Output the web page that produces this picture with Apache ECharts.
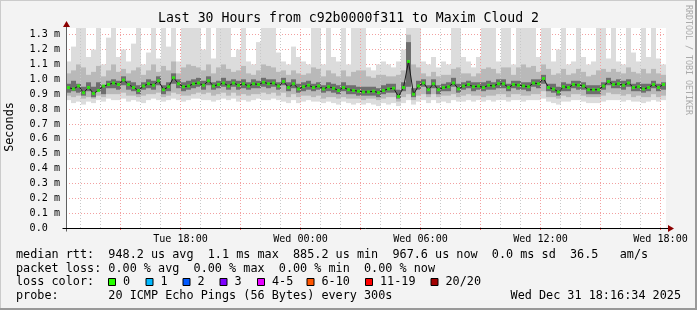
<!DOCTYPE html>
<html><head><meta charset="utf-8">
<script src="https://cdn.jsdelivr.net/npm/echarts@6/dist/echarts.min.js"></script>
<style>html,body{margin:0;padding:0;background:#f3f3f3}#c{width:697px;height:310px}</style>
</head><body><div id="c"></div>
<script>
// ---- data ----
const startHour = 12.2761;   // Tue 12:16:34 (hours since Tue 00:00)
const spanHours = 30;
const stepHour = 0.25;       // one smoke column = 15 min

const median = [
0.944,0.935,0.955,0.91,0.945,0.905,0.925,0.955,0.965,0.975,
0.965,0.995,0.965,0.945,0.925,0.955,0.97,0.96,0.99,0.93,
0.95,1.01,0.97,0.95,0.955,0.97,0.975,0.96,0.99,0.955,
0.965,0.975,0.955,0.975,0.96,0.97,0.955,0.97,0.965,0.98,
0.97,0.975,0.955,0.985,0.945,0.97,0.935,0.95,0.96,0.945,
0.955,0.935,0.95,0.94,0.925,0.945,0.93,0.925,0.92,0.915,
0.915,0.92,0.91,0.925,0.935,0.94,0.885,0.945,1.12,0.90,
0.955,0.975,0.93,0.97,0.93,0.945,0.95,0.975,0.935,0.955,
0.965,0.95,0.955,0.945,0.96,0.955,0.97,0.97,0.945,0.965,
0.96,0.955,0.95,0.975,0.97,1.005,0.945,0.935,0.915,0.95,
0.945,0.965,0.96,0.955,0.93,0.93,0.93,0.955,0.985,0.965,
0.97,0.96,0.975,0.945,0.95,0.935,0.945,0.965,0.945,0.965];

const smokeMax = [
1.12,1.22,1.36,1.36,1.15,1.20,1.36,1.10,1.28,1.36,
1.15,1.20,1.12,1.24,1.36,1.10,1.18,1.36,1.14,1.36,
1.22,1.36,1.12,1.36,1.36,1.36,1.36,1.20,1.36,1.14,
1.36,1.36,1.36,1.15,1.20,1.36,1.12,1.10,1.25,1.36,
1.36,1.36,1.18,1.12,1.10,1.22,1.15,1.12,1.10,1.36,
1.36,1.10,1.36,1.15,1.12,1.36,1.10,1.36,1.36,1.36,
1.08,1.06,1.10,1.12,1.10,1.08,1.12,1.20,1.36,1.36,
1.36,1.12,1.10,1.15,1.08,1.12,1.10,1.36,1.36,1.15,
1.12,1.08,1.15,1.36,1.36,1.36,1.12,1.36,1.36,1.10,
1.36,1.36,1.36,1.36,1.15,1.36,1.36,1.12,1.20,1.36,
1.10,1.12,1.36,1.15,1.10,1.12,1.36,1.36,1.14,1.36,
1.12,1.10,1.36,1.18,1.12,1.36,1.15,1.36,1.14,1.10];

const smokeMin = [
0.86,0.84,0.85,0.83,0.85,0.84,0.86,0.85,0.87,0.86,
0.86,0.87,0.85,0.86,0.85,0.84,0.86,0.87,0.86,0.85,
0.86,0.87,0.86,0.85,0.86,0.87,0.87,0.86,0.86,0.85,
0.86,0.87,0.86,0.87,0.85,0.86,0.85,0.86,0.87,0.86,
0.86,0.87,0.86,0.85,0.84,0.86,0.84,0.85,0.86,0.85,
0.85,0.84,0.85,0.84,0.83,0.85,0.84,0.83,0.84,0.83,
0.84,0.83,0.82,0.84,0.83,0.84,0.82,0.84,0.86,0.83,
0.85,0.86,0.84,0.86,0.84,0.85,0.84,0.86,0.85,0.85,
0.86,0.85,0.86,0.85,0.86,0.85,0.86,0.86,0.85,0.86,
0.86,0.85,0.86,0.86,0.86,0.87,0.85,0.84,0.83,0.85,
0.85,0.86,0.86,0.85,0.84,0.84,0.84,0.85,0.86,0.86,
0.86,0.85,0.86,0.85,0.85,0.84,0.85,0.86,0.85,0.86];

const smokeMidHigh = [
1.04,1.06,1.10,1.08,1.03,1.05,1.09,1.02,1.06,1.10,
1.05,1.07,1.04,1.06,1.08,1.03,1.06,1.10,1.05,1.09,
1.06,1.12,1.04,1.08,1.10,1.09,1.08,1.06,1.10,1.04,
1.08,1.10,1.07,1.05,1.06,1.09,1.04,1.03,1.06,1.10,
1.09,1.08,1.05,1.06,1.03,1.06,1.04,1.03,1.04,1.08,
1.07,1.02,1.06,1.04,1.02,1.06,1.02,1.05,1.06,1.06,
1.02,1.01,1.03,1.03,1.02,1.02,1.03,1.06,1.30,1.10,
1.08,1.04,1.02,1.05,1.02,1.03,1.03,1.07,1.08,1.04,
1.04,1.02,1.04,1.07,1.08,1.07,1.04,1.08,1.08,1.03,
1.08,1.10,1.08,1.09,1.05,1.10,1.07,1.03,1.04,1.07,
1.03,1.04,1.07,1.05,1.02,1.03,1.06,1.07,1.05,1.07,
1.05,1.04,1.08,1.05,1.04,1.07,1.04,1.07,1.04,1.03];

const smokeMidLow = [
0.89,0.88,0.89,0.87,0.88,0.87,0.89,0.88,0.90,0.90,
0.90,0.91,0.89,0.89,0.88,0.89,0.90,0.90,0.91,0.88,
0.89,0.91,0.90,0.89,0.89,0.90,0.91,0.90,0.91,0.89,
0.90,0.91,0.89,0.91,0.89,0.90,0.89,0.90,0.90,0.91,
0.90,0.91,0.89,0.91,0.88,0.90,0.88,0.89,0.89,0.88,
0.89,0.87,0.88,0.88,0.87,0.88,0.87,0.87,0.87,0.86,
0.87,0.87,0.86,0.87,0.88,0.88,0.85,0.88,0.90,0.86,
0.89,0.90,0.88,0.90,0.88,0.89,0.89,0.90,0.88,0.89,
0.90,0.89,0.89,0.88,0.89,0.89,0.90,0.90,0.88,0.90,
0.90,0.89,0.89,0.90,0.90,0.92,0.88,0.88,0.87,0.89,
0.88,0.90,0.90,0.89,0.88,0.88,0.88,0.89,0.91,0.90,
0.90,0.89,0.90,0.88,0.89,0.88,0.88,0.90,0.88,0.89];

const smokeCoreHigh = [
0.97,0.99,0.97,0.95,0.98,0.95,0.98,0.96,0.99,1.00,
0.99,1.02,0.99,0.98,0.96,0.98,1.00,0.99,1.02,0.96,
0.98,1.04,1.00,0.98,0.99,1.00,1.01,0.99,1.02,0.98,
0.99,1.01,0.99,1.00,0.99,1.00,0.98,1.00,0.99,1.01,
1.00,1.00,0.98,1.01,0.98,1.00,0.97,0.98,0.99,0.97,
0.98,0.96,0.98,0.97,0.96,0.98,0.96,0.96,0.95,0.95,
0.95,0.95,0.94,0.96,0.97,0.97,0.93,0.98,1.25,0.94,
0.99,1.00,0.96,1.00,0.96,0.97,0.98,1.01,0.97,0.98,
0.99,0.98,0.98,0.98,0.99,0.98,1.00,1.00,0.97,0.99,
0.99,0.98,0.98,1.00,1.00,1.03,0.97,0.97,0.95,0.98,
0.97,0.99,0.99,0.98,0.96,0.96,0.96,0.98,1.01,0.99,
1.00,0.99,1.00,0.97,0.98,0.97,0.97,0.99,0.97,0.98];

const smokeCoreLow = [
0.91,0.92,0.91,0.89,0.92,0.88,0.92,0.90,0.94,0.94,
0.93,0.96,0.93,0.92,0.90,0.93,0.94,0.93,0.96,0.90,
0.92,0.97,0.94,0.92,0.93,0.94,0.95,0.93,0.96,0.93,
0.94,0.95,0.93,0.95,0.93,0.94,0.93,0.94,0.94,0.95,
0.94,0.95,0.93,0.96,0.92,0.94,0.91,0.92,0.93,0.92,
0.93,0.91,0.92,0.91,0.90,0.92,0.90,0.90,0.89,0.89,
0.89,0.89,0.88,0.90,0.91,0.91,0.87,0.92,0.95,0.88,
0.93,0.95,0.90,0.94,0.90,0.92,0.92,0.95,0.91,0.93,
0.94,0.92,0.93,0.92,0.93,0.93,0.94,0.94,0.92,0.94,
0.93,0.93,0.92,0.95,0.94,0.97,0.92,0.91,0.89,0.92,
0.92,0.94,0.93,0.93,0.90,0.90,0.90,0.93,0.96,0.94,
0.94,0.93,0.95,0.92,0.92,0.91,0.92,0.94,0.92,0.93];

const xLabelHours = [18, 24, 30, 36, 42];
const xLabelTexts = ['Tue 18:00', 'Wed 00:00', 'Wed 06:00', 'Wed 12:00', 'Wed 18:00'];
const majorGridHours = [15, 18, 21, 24, 27, 30, 33, 36, 39, 42];
const minorGridHours = [13, 14, 16, 17, 19, 20, 22, 23, 25, 26, 28, 29, 31, 32, 34, 35, 37, 38, 40, 41];
const yMaxMs = 1.345;
const yStepMs = 0.1;

const titleText = 'Last 30 Hours from c92b0000f311 to Maxim Cloud 2';
const unitText = 'Seconds';
const watermarkText = 'RRDTOOL / TOBI OETIKER';
const legendLines = [
  'median rtt:  948.2 us avg  1.1 ms max  885.2 us min  967.6 us now  0.0 ms sd  36.5   am/s',
  'packet loss: 0.00 % avg  0.00 % max  0.00 % min  0.00 % now',
  'loss color:',
  'probe:       20 ICMP Echo Pings (56 Bytes) every 300s'
];
const stampText = 'Wed Dec 31 18:16:34 2025';
const lossLabels = ['0', '1', '2', '3', '4-5', '6-10', '11-19', '20/20'];
const lossColors = ['#26ff00', '#00b8ff', '#0059ff', '#7e00ff', '#e600ff', '#ff5500', '#ff0000', '#a10000'];

// ---- layout ----
const MONO = "'DejaVu Sans Mono', monospace";
const G = { left: 66, top: 28, width: 600, height: 200 };
const lossBoxX = [108, 145.5, 182.5, 219.5, 257, 306.5, 365, 430.5];

const chart = echarts.init(document.getElementById('c'), null, { renderer: 'canvas' });

function bandData(lo, hi) {
  return lo.map((v, k) => [startHour + k * stepHour, v, hi[k]]);
}
function bandSeries(lo, hi, color, z) {
  return {
    type: 'custom', z: z, silent: true, clip: true,
    data: bandData(lo, hi),
    encode: { x: 0, y: [1, 2] },
    renderItem: function (params, api) {
      const t = api.value(0);
      const p0 = api.coord([t, api.value(1)]);
      const p1 = api.coord([t + stepHour, api.value(2)]);
      const r = echarts.graphic.clipRectByRect(
        { x: p0[0], y: p1[1], width: p1[0] - p0[0], height: p0[1] - p1[1] },
        { x: params.coordSys.x, y: params.coordSys.y, width: params.coordSys.width, height: params.coordSys.height });
      if (!r) return null;
      return { type: 'rect', shape: r, style: { fill: color } };
    }
  };
}

const medianPts = median.map((v, k) => [startHour + (k + 0.5) * stepHour, v]);
const gridDash = [1, 2];

const option = {
  backgroundColor: '#f3f3f3',
  animation: false,
  grid: { left: G.left, top: G.top, width: G.width, height: G.height, show: true, backgroundColor: '#ffffff', borderWidth: 0 },
  xAxis: {
    type: 'value', min: startHour, max: startHour + spanHours,
    axisLine: { show: false },
    splitLine: { show: false },
    axisTick: { show: true, customValues: majorGridHours, length: 2, lineStyle: { color: '#ff6060' } },
    axisLabel: {
      customValues: xLabelHours,
      formatter: v => xLabelTexts[xLabelHours.indexOf(Math.round(v))] || '',
      fontFamily: MONO, fontSize: 10.1, color: '#000', margin: 6
    }
  },
  yAxis: {
    type: 'value', min: 0, max: yMaxMs, interval: yStepMs,
    axisLine: { show: false },
    axisTick: { show: false },
    splitLine: { show: true, showMinLine: false, showMaxLine: false, lineStyle: { color: '#f2a0a0', type: gridDash, width: 1 } },
    axisLabel: {
      showMaxLabel: false,
      formatter: v => (Math.abs(v) < 1e-9 ? '0.0  ' : v.toFixed(1) + ' m'),
      fontFamily: MONO, fontSize: 10.1, color: '#000', margin: 6
    }
  },
  series: [
    bandSeries(smokeMin, smokeMax, '#dcdcdc', 2),
    bandSeries(smokeMidLow, smokeMidHigh, '#b9b9b9', 3),
    bandSeries(smokeCoreLow, smokeCoreHigh, '#6e6e6e', 4),
    {
      type: 'line', data: medianPts, z: 5, silent: true, symbol: 'none',
      lineStyle: { color: '#1a1a1a', width: 1 }
    },
    {
      type: 'scatter', data: medianPts, z: 6, silent: true, symbol: 'rect', symbolSize: [3, 3],
      itemStyle: { color: '#26ff00' }
    },
    {
      type: 'line', data: [], z: 7, silent: true,
      markLine: {
        silent: true, symbol: ['none', 'none'], label: { show: false },
        lineStyle: { color: '#c8c8c8', type: gridDash, width: 1 },
        data: minorGridHours.map(h => ({ xAxis: h }))
      }
    },
    {
      type: 'line', data: [], z: 8, silent: true,
      markLine: {
        silent: true, symbol: ['none', 'none'], label: { show: false },
        lineStyle: { color: '#f2a0a0', type: gridDash, width: 1 },
        data: majorGridHours.map(h => ({ xAxis: h }))
      }
    }
  ]
};
chart.setOption(option);

// axis lines, arrows, texts, legend
const p00 = chart.convertToPixel({ gridIndex: 0 }, [startHour, 0]);
const pR = chart.convertToPixel({ gridIndex: 0 }, [startHour + spanHours, yMaxMs]);
const x0 = Math.round(p00[0]) + 0.5, y0 = Math.round(p00[1]) + 0.5;
const xR = pR[0], yT = pR[1];

const gfx = [
  { type: 'rect', shape: { x: 0, y: 0, width: 697, height: 1 }, style: { fill: '#cbcbcb' }, z: 1 },
  { type: 'rect', shape: { x: 0, y: 0, width: 1, height: 310 }, style: { fill: '#cbcbcb' }, z: 1 },
  { type: 'rect', shape: { x: 695, y: 0, width: 2, height: 310 }, style: { fill: '#999999' }, z: 1 },
  { type: 'rect', shape: { x: 0, y: 308, width: 697, height: 2 }, style: { fill: '#999999' }, z: 1 },
  { type: 'line', shape: { x1: x0, y1: y0 + 3, x2: x0, y2: yT - 3 }, style: { stroke: '#606060', lineWidth: 1 }, z: 20 },
  { type: 'line', shape: { x1: x0 - 4, y1: y0, x2: xR + 3, y2: y0 }, style: { stroke: '#000000', lineWidth: 1 }, z: 20 },
  { type: 'polygon', shape: { points: [[x0 - 3.5, yT - 1], [x0 + 3.5, yT - 1], [x0, yT - 7]] }, style: { fill: '#8b0000' }, z: 21 },
  { type: 'polygon', shape: { points: [[xR + 2, y0 - 3.5], [xR + 2, y0 + 3.5], [xR + 8, y0]] }, style: { fill: '#8b0000' }, z: 21 },
  { type: 'text', x: 348.5, y: 19, style: { text: titleText, font: "13.2px " + MONO, fill: '#000', align: 'center', verticalAlign: 'middle' }, z: 30 },
  { type: 'text', x: 10, y: 127, rotation: Math.PI / 2, style: { text: unitText, font: "11.8px " + MONO, fill: '#000', align: 'center', verticalAlign: 'middle' }, z: 30 },
  { type: 'text', x: 688, y: 60, rotation: -Math.PI / 2, style: { text: watermarkText, font: "8.3px " + MONO, fill: '#aaaaaa', align: 'center', verticalAlign: 'middle' }, z: 30 }
];
const lineYs = [255, 268.5, 282, 296];
legendLines.forEach((t, i) => {
  gfx.push({ type: 'text', x: 16, y: lineYs[i], style: { text: t, font: "11.8px " + MONO, fill: '#000', align: 'left', verticalAlign: 'middle' }, z: 30 });
});
gfx.push({ type: 'text', x: 681, y: lineYs[3], style: { text: stampText, font: "11.8px " + MONO, fill: '#000', align: 'right', verticalAlign: 'middle' }, z: 30 });
lossLabels.forEach((lab, i) => {
  gfx.push({ type: 'rect', shape: { x: lossBoxX[i] + 0.5, y: 278.5, width: 7, height: 7 }, style: { fill: lossColors[i], stroke: '#000', lineWidth: 1 }, z: 30 });
  gfx.push({ type: 'text', x: lossBoxX[i] + 15, y: lineYs[2], style: { text: lab, font: "11.8px " + MONO, fill: '#000', align: 'left', verticalAlign: 'middle' }, z: 30 });
});
chart.setOption({ graphic: { elements: gfx } });
</script>
</body></html>
